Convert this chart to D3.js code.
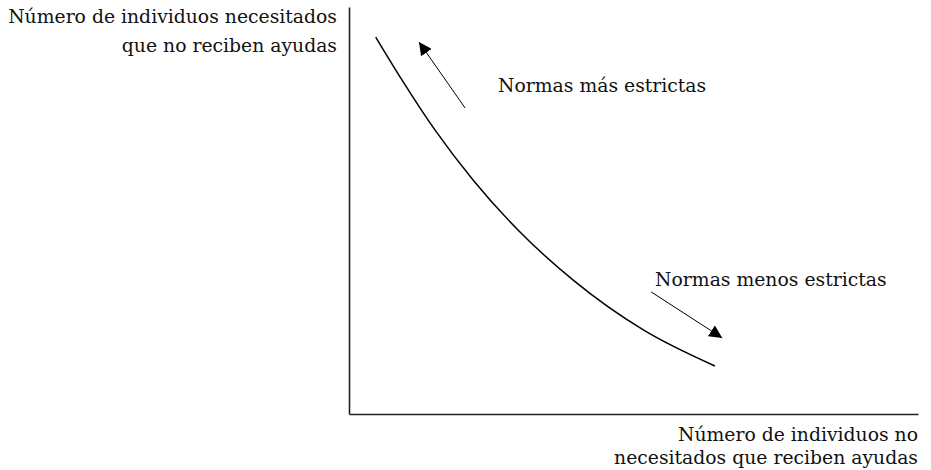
<!DOCTYPE html>
<html>
<head>
<meta charset="utf-8">
<script src="https://cdn.jsdelivr.net/npm/d3@7"></script>
<style>
  body { margin: 0; background: #fff; }
  text { font-family: "DejaVu Serif", serif; font-size: 18.8px; fill: #111; }
</style>
</head>
<body>
<div id="chart"></div>
<script>
// Curve points (data units, 0..10 on both axes)
var curveX = [0.47, 0.93, 1.51, 2.18, 2.97, 3.94, 5.18, 6.43];
var curveY = [9.26, 8.21, 6.98, 5.75, 4.52, 3.29, 2.06, 1.18];

// Arrows: tail to tip
var arrowNames = ['stricter', 'looser'];
var arrowFrom = [[2.04, 7.52], [5.31, 3.00]];
var arrowTo = [[1.23, 9.14], [6.56, 1.87]];

// Annotation labels
var noteText = ['Normas más estrictas', 'Normas menos estrictas'];
var notePos = [[2.62, 7.91], [5.38, 3.14]];

var yLabel = ['Número de individuos necesitados', 'que no reciben ayudas'];
var xLabel = ['Número de individuos no', 'necesitados que reciben ayudas'];

(function () {
    var width = 931,
        height = 470,
        m_left = 349,
        m_right = 918,
        m_top = 7,
        m_bottom = 414;

    var x = d3.scaleLinear().domain([0, 10]).range([m_left, m_right]);
    var y = d3.scaleLinear().domain([0, 10]).range([m_bottom, m_top]);

    var svg = d3.select('#chart').append('svg')
        .attr('width', width)
        .attr('height', height);

    // Arrow head marker
    svg.append('defs').append('marker')
        .attr('id', 'head')
        .attr('viewBox', '0 0 10 10')
        .attr('refX', 10)
        .attr('refY', 5)
        .attr('markerWidth', 13)
        .attr('markerHeight', 13)
        .attr('markerUnits', 'userSpaceOnUse')
        .attr('orient', 'auto')
      .append('path')
        .attr('d', 'M0,0 L10,5 L0,10 Z')
        .attr('fill', '#000');

    // Axes: plain lines with no ticks
    var yAxis = d3.axisLeft(y).ticks(0).tickSizeOuter(0);
    var xAxis = d3.axisBottom(x).ticks(0).tickSizeOuter(0);

    svg.append('g')
        .attr('transform', 'translate(' + m_left + ',0)')
        .call(yAxis)
        .select('.domain')
        .attr('stroke', '#222')
        .attr('stroke-width', 1.6);

    svg.append('g')
        .attr('transform', 'translate(0,' + m_bottom + ')')
        .call(xAxis)
        .select('.domain')
        .attr('stroke', '#222')
        .attr('stroke-width', 1.6);

    // The curve
    var pts = curveX.map(function (d, i) { return [d, curveY[i]]; });
    var line = d3.line()
        .x(function (d) { return x(d[0]); })
        .y(function (d) { return y(d[1]); })
        .curve(d3.curveMonotoneX);

    svg.append('path')
        .datum(pts)
        .attr('d', line)
        .attr('fill', 'none')
        .attr('stroke', '#000')
        .attr('stroke-width', 1.5);

    // Arrows
    svg.selectAll('line.arrow')
        .data(arrowNames)
      .enter().append('line')
        .attr('class', 'arrow')
        .attr('x1', function (d, i) { return x(arrowFrom[i][0]); })
        .attr('y1', function (d, i) { return y(arrowFrom[i][1]); })
        .attr('x2', function (d, i) { return x(arrowTo[i][0]); })
        .attr('y2', function (d, i) { return y(arrowTo[i][1]); })
        .attr('stroke', '#000')
        .attr('stroke-width', 1)
        .attr('marker-end', 'url(#head)');

    // Annotations
    svg.selectAll('text.note')
        .data(noteText)
      .enter().append('text')
        .attr('class', 'note')
        .attr('x', function (d, i) { return x(notePos[i][0]); })
        .attr('y', function (d, i) { return y(notePos[i][1]); })
        .text(function (d) { return d; });

    // Axis titles, right-aligned
    svg.selectAll('text.ylab')
        .data(yLabel)
      .enter().append('text')
        .attr('class', 'ylab')
        .attr('text-anchor', 'end')
        .attr('x', 337)
        .attr('y', function (d, i) { return 23 + i * 29; })
        .text(function (d) { return d; });

    svg.selectAll('text.xlab')
        .data(xLabel)
      .enter().append('text')
        .attr('class', 'xlab')
        .attr('text-anchor', 'end')
        .attr('x', 918)
        .attr('y', function (d, i) { return 441 + i * 23; })
        .text(function (d) { return d; });
}());
</script>
</body>
</html>
